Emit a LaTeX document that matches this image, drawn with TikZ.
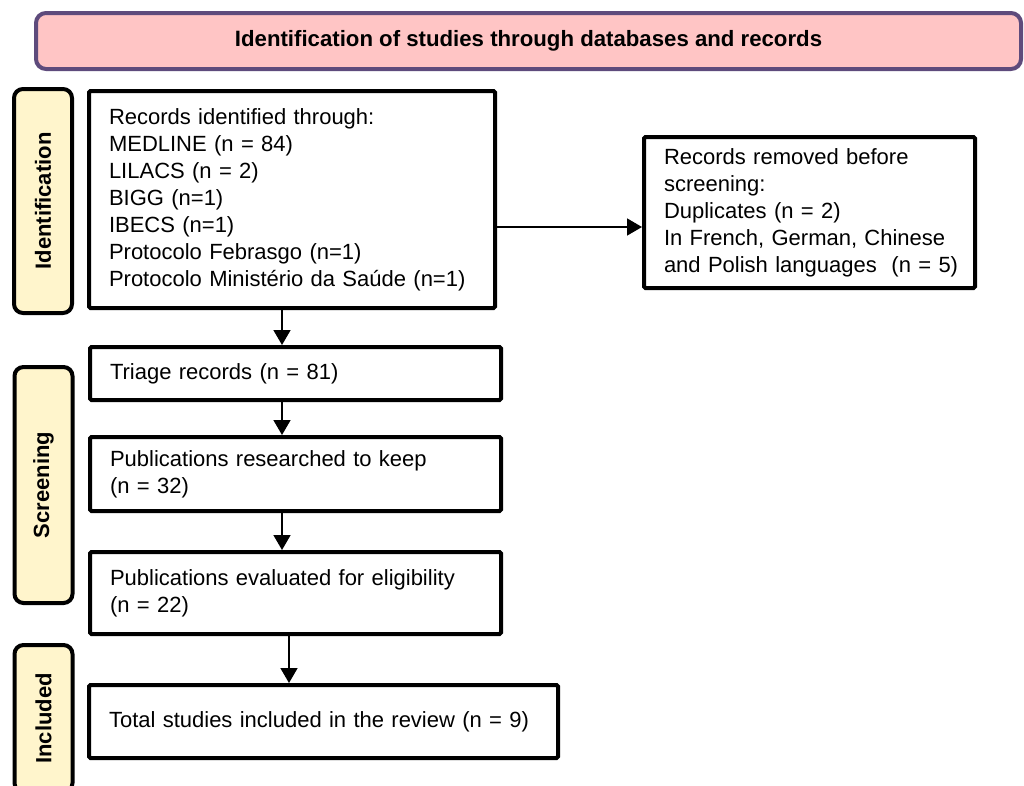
\documentclass[tikz,border=0pt]{standalone}
\usepackage{fontspec}
\setmainfont{Liberation Sans}
\usetikzlibrary{arrows.meta,calc}
\definecolor{hdrfill}{HTML}{FFC5C5}
\definecolor{hdrline}{HTML}{5E4B7C}
\definecolor{lblfill}{HTML}{FFF5CC}
\begin{document}
\begin{tikzpicture}[x=1pt,y=-1pt,
 box/.style={draw=black, line width=4pt, rounded corners=1.5pt, inner xsep=20pt, inner ysep=0pt, align=left, font=\fontsize{22}{27}\selectfont, fill=white},
 lbl/.style={draw=black, line width=4pt, rounded corners=9pt, fill=lblfill, minimum height=58pt, inner sep=0pt, rotate=90, font=\fontsize{22}{26}\selectfont\bfseries},
 arr/.style={line width=1.6pt, -{Triangle[length=15pt,width=17pt]}}]
\clip (0,0) rectangle (1024,785);
\fill[white] (0,0) rectangle (1024,785);

\node[draw=hdrline, fill=hdrfill, line width=4pt, rounded corners=10pt, minimum width=985pt, minimum height=56pt, font=\fontsize{22.2}{26}\selectfont\bfseries] (hdr) at (528.5,41) {Identification of studies through databases and records};

\node[lbl, minimum width=224pt] (lid) at (43,201) {Identification};
\node[lbl, minimum width=236pt] (lsc) at (43.5,485) {Screening};
\node[lbl, minimum width=147pt] (lin) at (43.5,718.5) {Included};

\node[box, text width=366pt, minimum height=217pt] (rec) at (292,199.5) {Records identified through:\\ MEDLINE (n = 84)\\ LILACS (n = 2)\\ BIGG (n=1)\\ IBECS (n=1)\\ Protocolo Febrasgo (n=1)\\ Protocolo Ministério da Saúde (n=1)};
\node[box, text width=291pt, minimum height=151pt] (rem) at (809.5,212.5) {Records removed before\\ screening:\\ Duplicates (n = 2)\\ \mbox{In French, German, Chinese}\\ \mbox{and Polish languages\ \ (n = 5)}};
\node[box, text width=371pt, minimum height=53pt] (tri) at (295.5,373.5) {Triage records (n = 81)};
\node[box, text width=371pt, minimum height=74pt] (pub) at (295.5,474) {Publications researched to keep\\ (n = 32)};
\node[box, text width=371pt, minimum height=82pt] (eli) at (295.5,593) {Publications evaluated for eligibility\\ (n = 22)};
\node[box, text width=429pt, minimum height=73pt] (inc) at (323.5,721.5) {Total studies included in the review (n = 9)};

\draw[arr] ([xshift=-10pt]rec.south) -- ([xshift=-10pt]rec.south |- tri.north);
\draw[arr] ([xshift=-13.5pt]tri.south) -- ([xshift=-13.5pt]tri.south |- pub.north);
\draw[arr] ([xshift=-13.5pt]pub.south) -- ([xshift=-13.5pt]pub.south |- eli.north);
\draw[arr] ([xshift=-6.5pt]eli.south) -- ([xshift=-6.5pt]eli.south |- inc.north);
\draw[arr] ([yshift=-27.5pt]rec.east) -- ([yshift=-27.5pt]rec.east -| rem.west);
\end{tikzpicture}
\end{document}
